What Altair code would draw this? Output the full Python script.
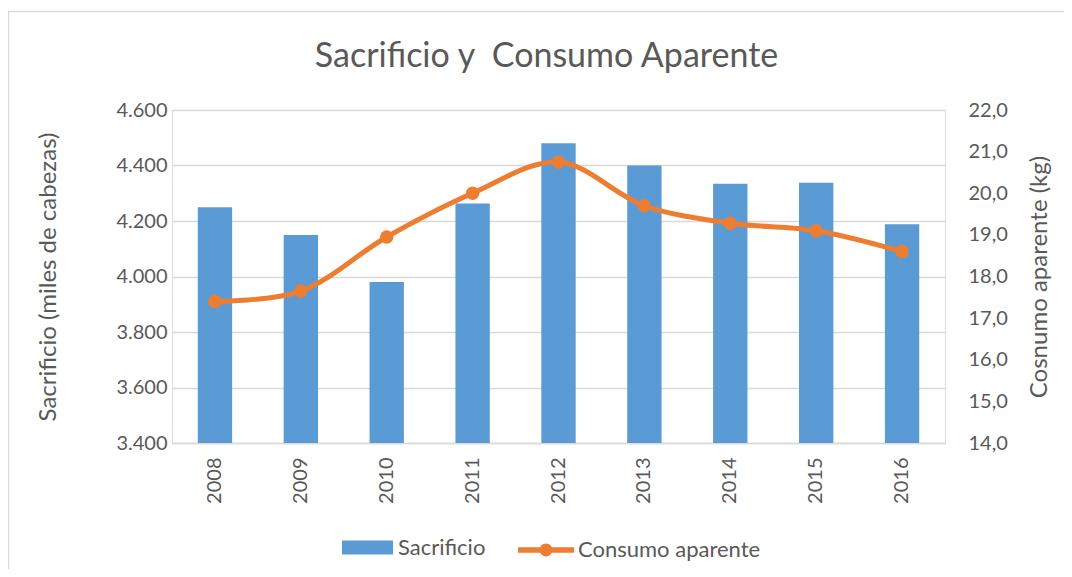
import altair as alt
import pandas as pd

years = ["2008", "2009", "2010", "2011", "2012", "2013", "2014", "2015", "2016"]
sacrificio = [4250, 4150, 3980, 4263, 4480, 4400, 4334, 4338, 4188]
consumo = [17.4, 17.65, 18.95, 20.0, 20.75, 19.7, 19.28, 19.1, 18.6]
title_text = "Sacrificio y \u00a0Consumo Aparente"

df = pd.DataFrame({
    "year": years,
    "sacrificio": sacrificio,
    "consumo": consumo,
    "s1": ["Sacrificio"] * len(years),
    "s2": ["Consumo aparente"] * len(years),
})

FONT = "Lato"
GREY = "#595959"
BLUE = "#5B9BD5"
ORANGE = "#ED7D31"
LBL = 20

x_enc = alt.X(
    "year:N",
    sort=years,
    scale=alt.Scale(paddingInner=0.6, paddingOuter=0.3),
    axis=alt.Axis(
        title=None, labelAngle=270, labelAlign="right", labelBaseline="middle",
        labelPadding=14, ticks=False, domainColor="#D9D9D9", domainWidth=1.5,
        labelFontSize=LBL, labelColor=GREY, labelFont=FONT,
    ),
)

bar_path = "M-1,-0.27H1V0.27H-1Z"
line_path = ("M-1,-0.1L1,-0.1L1,0.1L-1,0.1Z "
             "M-0.23,0A0.23,0.23 0 1 1 0.23,0A0.23,0.23 0 1 1 -0.23,0Z")

bars = alt.Chart(df).mark_bar(color=BLUE, clip=True).encode(
    x=x_enc,
    y=alt.Y(
        "sacrificio:Q",
        scale=alt.Scale(domain=[3400, 4600], nice=False, zero=False),
        axis=alt.Axis(
            title="Sacrificio (miles de cabezas)", values=[3400, 3600, 3800, 4000, 4200, 4400, 4600],
            labelExpr="replace(format(datum.value, ',.0f'), ',', '.')",
            grid=True, gridColor="#D9D9D9", gridWidth=1.5, domain=False, ticks=False,
            labelPadding=5, labelFontSize=LBL, labelColor=GREY, labelFont=FONT,
            titleFontSize=24, titleColor=GREY, titleFont=FONT, titleFontWeight="normal",
            titlePadding=55,
        ),
    ),
    color=alt.Color(
        "s1:N",
        scale=alt.Scale(domain=["Sacrificio"], range=[BLUE]),
        legend=alt.Legend(
            title=None, orient="none", legendX=170, legendY=412,
            symbolType=bar_path, symbolSize=2601, symbolStrokeWidth=0,
            labelFontSize=22, labelColor=GREY, labelFont=FONT, labelOffset=5,
            labelLimit=400,
        ),
    ),
)

y2 = alt.Y(
    "consumo:Q",
    scale=alt.Scale(domain=[14, 22], nice=False, zero=False),
    axis=alt.Axis(
        orient="right", title="Cosnumo aparente (kg)",
        values=[14, 15, 16, 17, 18, 19, 20, 21, 22],
        labelExpr="replace(format(datum.value, '.1f'), '.', ',')",
        grid=False, domain=False, ticks=False,
        labelPadding=23, labelFontSize=LBL, labelColor=GREY, labelFont=FONT,
        titleFontSize=24, titleColor=GREY, titleFont=FONT, titleFontWeight="normal",
        titlePadding=44, titleAngle=270,
    ),
)

color2 = alt.Color(
    "s2:N",
    scale=alt.Scale(domain=["Consumo aparente"], range=[ORANGE]),
    legend=alt.Legend(
        title=None, orient="none", legendX=346, legendY=412,
        symbolType=line_path, symbolSize=3136, symbolStrokeWidth=0,
        symbolFillColor=ORANGE, symbolStrokeColor=ORANGE,
        labelFontSize=22, labelColor=GREY, labelFont=FONT, labelOffset=4,
        labelLimit=400,
    ),
)

line = alt.Chart(df).mark_line(interpolate="catmull-rom", strokeWidth=5).encode(
    x=x_enc, y=y2, color=color2,
)
points = alt.Chart(df).mark_point(filled=True, size=180, opacity=1).encode(
    x=x_enc, y=y2,
    color=alt.Color("s2:N", scale=alt.Scale(domain=["Consumo aparente"], range=[ORANGE]), legend=None),
)

line_layer = alt.layer(line, points)

one = pd.DataFrame({"t": [title_text]})

border = alt.Chart(one).mark_rect(
    fillOpacity=0, stroke="#D9D9D9", strokeWidth=1.3, clip=False
).encode(
    x=alt.value(-163.5), x2=alt.value(1100), y=alt.value(-98.5), y2=alt.value(600)
)

title = alt.Chart(one).mark_text(
    font=FONT, fontSize=34, color=GREY, align="center", baseline="middle", clip=False
).encode(
    text="t:N", x=alt.value(374.5), y=alt.value(-53)
)

chart = alt.layer(border, title, bars, line_layer).resolve_scale(
    y="independent", color="independent"
).properties(
    width=773,
    height=333,
    autosize=alt.AutoSizeParams(type="none"),
    padding={"left": 164, "top": 102, "right": 119, "bottom": 126},
).configure_view(stroke=None).configure(background="white")

chart.save("out.html", embed_options={"renderer": "svg", "actions": False})
